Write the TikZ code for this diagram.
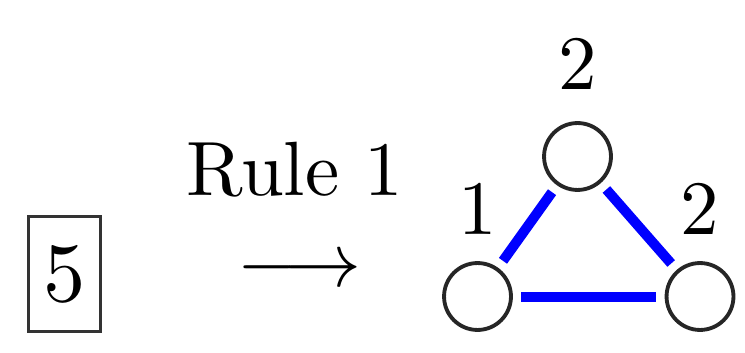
\documentclass[tikz,border=0pt]{standalone}
\usepackage{amsmath, amssymb}
\usetikzlibrary{positioning}

\begin{document}
\begin{tikzpicture}
  [x=0.13pt,y=-0.13pt,
  vertex/.style={draw=black!85,circle,line width=0.5pt,minimum size=8.7pt,inner sep=0pt},
  weight/.style={inner sep=0pt},
  link/.style={blue,line width=1.3pt,shorten <=1.1pt,shorten >=1.1pt}]
  \useasboundingbox (0,0) rectangle (745,352);
  % input value and the rule
  \node[draw=black!80,line width=0.4pt,minimum width=9.36pt,minimum height=14.95pt,inner sep=0pt]
    (input) at (64.5,274) {\fontsize{11}{13}\selectfont $5$};
  \node[anchor=base] (rule) at (295,195) {Rule 1};
  \node[anchor=base] (arrow) at (299,286) {$\longrightarrow$};
  % resulting triangle
  \node[vertex] (top) at (577.5,156.5) {};
  \node[vertex] (left) at (477.5,296.5) {};
  \node[vertex] (right) at (700,296.5) {};
  \node[weight,above=3.9pt of top] (wtop) {$2$};
  \node[weight,above=3.3pt of left] (wleft) {$1$};
  \node[weight,above=3.3pt of right] (wright) {$2$};
  \draw[link] (left) -- (top);
  \draw[link] (top) -- (right);
  \draw[link] (left) -- (right);
\end{tikzpicture}
\end{document}
